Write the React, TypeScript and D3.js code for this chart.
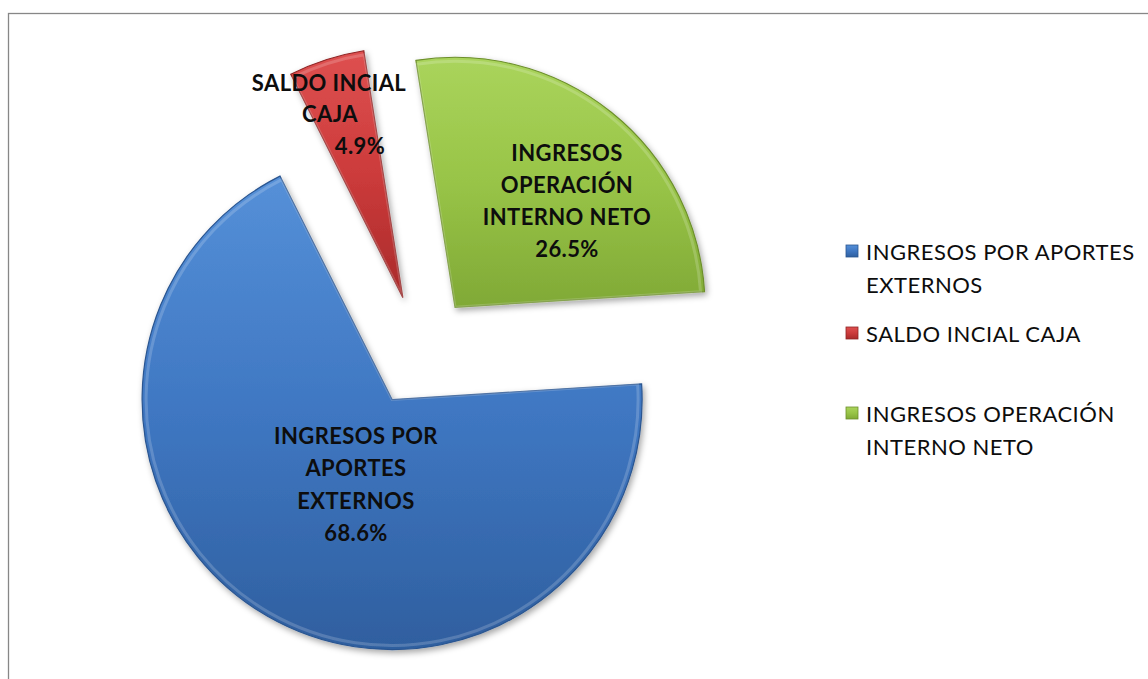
import React from "react";
import * as d3 from "d3";

const categories = ["INGRESOS POR APORTES EXTERNOS", "SALDO INCIAL CAJA", "INGRESOS OPERACIÓN INTERNO NETO"];
const values = [68.6, 4.9, 26.5];
const labelLines = [
  ["INGRESOS POR", "APORTES", "EXTERNOS", "68.6%"],
  ["SALDO INCIAL", "CAJA", "4.9%"],
  ["INGRESOS", "OPERACIÓN", "INTERNO NETO", "26.5%"],
];
const legendLines = [
  ["INGRESOS POR APORTES", "EXTERNOS"],
  ["SALDO INCIAL CAJA"],
  ["INGRESOS OPERACIÓN", "INTERNO NETO"],
];

const colors = [
  { light: "#5590d8", mid: "#3f77c2", dark: "#2f5f9f", stroke: "#2a5590" },
  { light: "#de5050", mid: "#cc3b3b", dark: "#a92a2a", stroke: "#8f2424" },
  { light: "#aad45c", mid: "#98c447", dark: "#80a936", stroke: "#6d8f2c" },
];

const W = 1148;
const H = 679;
const cx = 420;
const cy = 351;
const R = 250;
const explode = 56;
const rot = (86.4 * Math.PI) / 180;

export default function App() {
  const pie = d3
    .pie<number>()
    .sort(null)
    .startAngle(rot)
    .endAngle(rot + 2 * Math.PI)(values);
  const arc = d3.arc<d3.PieArcDatum<number>>().innerRadius(0).outerRadius(R);
  const inner = d3.arc<d3.PieArcDatum<number>>().innerRadius(0).outerRadius(R - 4);
  const font = "Lato, 'Open Sans', sans-serif";

  const labelPos = [
    { y: 435, dy: 32.5, xs: [356, 356, 356, 356] },
    { y: 82, dy: 31.5, xs: [329, 330, 360] },
    { y: 152, dy: 32.3, xs: [567, 567, 567, 567] },
  ];

  const legendY = [251, 333, 413];

  return (
    <svg width={W} height={H} style={{ position: "absolute", left: 0, top: 0 }}>
      <defs>
        {colors.map((c, i) => (
          <linearGradient key={i} id={`g${i}`} x1="0" y1="0" x2="0" y2="1">
            <stop offset="0" stopColor={c.light} />
            <stop offset="0.5" stopColor={c.mid} />
            <stop offset="1" stopColor={c.dark} />
          </linearGradient>
        ))}
        <filter id="shadow" x="-20%" y="-20%" width="140%" height="140%">
          <feDropShadow dx="2" dy="3" stdDeviation="3" floodColor="#000" floodOpacity="0.35" />
        </filter>
      </defs>
      <rect x={8.5} y={13.5} width={W} height={H} fill="#fff" stroke="#878787" strokeWidth={1.3} />
      {pie.map((d, i) => {
        const mid = (d.startAngle + d.endAngle) / 2;
        const ox = cx + explode * Math.sin(mid);
        const oy = cy - explode * Math.cos(mid);
        return (
          <g key={i} transform={`translate(${ox},${oy})`}>
            <path d={arc(d) || ""} fill={`url(#g${i})`} stroke={colors[i].stroke} strokeWidth={1.2} filter="url(#shadow)" />
            <path d={inner(d) || ""} fill="none" stroke="#ffffff" strokeOpacity={0.18} strokeWidth={3} />
          </g>
        );
      })}
      {labelLines.map((lines, i) => (
        <g key={i}>
          {lines.map((t, j) => (
            <text
              key={j}
              x={labelPos[i].xs[j]}
              y={labelPos[i].y + j * labelPos[i].dy}
              textAnchor="middle"
              dominantBaseline="central"
              fontFamily={font}
              fontWeight="bold"
              fontSize={22}
              letterSpacing={0.4}
              fill="#0d0d0d"
            >
              {t}
            </text>
          ))}
        </g>
      ))}
      {legendLines.map((lines, i) => (
        <g key={i}>
          <rect x={846} y={legendY[i] - 6} width={12} height={12} fill={`url(#g${i})`} stroke={colors[i].stroke} strokeWidth={0.8} />
          {lines.map((t, j) => (
            <text
              key={j}
              x={866}
              y={legendY[i] + j * 33}
              dominantBaseline="central"
              fontFamily={font}
              fontSize={22}
              letterSpacing={0.5}
              fill="#0d0d0d"
            >
              {t}
            </text>
          ))}
        </g>
      ))}
      <title>{categories.join(", ")}</title>
    </svg>
  );
}
